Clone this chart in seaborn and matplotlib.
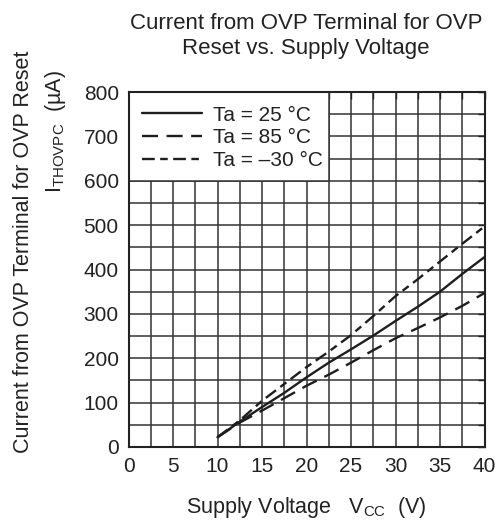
import matplotlib
matplotlib.use("Agg")
import matplotlib.pyplot as plt
import seaborn as sns
import pandas as pd
from matplotlib.patches import Rectangle
from matplotlib.ticker import MultipleLocator

# ---- data ----
vcc = [10, 12.5, 15, 17.5, 20, 22.5, 25, 27.5, 30, 32.5, 35, 37.5, 40]
i_25 = [22, 57, 90, 122, 157, 190, 220, 251, 284, 316, 350, 390, 428]
i_85 = [22, 55, 82, 110, 138, 163, 190, 218, 245, 268, 292, 318, 347]
i_m30 = [22, 60, 104, 142, 180, 215, 252, 295, 340, 378, 418, 458, 497]
labels = ["Ta = 25 °C", "Ta = 85 °C", "Ta = –30 °C"]
x_ticks = [0, 5, 10, 15, 20, 25, 30, 35, 40]
y_ticks = [0, 100, 200, 300, 400, 500, 600, 700, 800]

sns.set_theme(style="white")
plt.rcParams["font.family"] = ["Liberation Sans", "DejaVu Sans"]
plt.rcParams["mathtext.fontset"] = "custom"
plt.rcParams["mathtext.rm"] = "Liberation Sans"
plt.rcParams["mathtext.it"] = "Liberation Sans:italic"

W, H = 500, 527
fig = plt.figure(figsize=(W / 100, H / 100), dpi=100)
L, R, T, B = 128.5, 484.5, 92, 447
ax = fig.add_axes([L / W, 1 - B / H, (R - L) / W, (B - T) / H])

lc = "#1e1e1e"
dash_styles = [None, (6.8, 3.6), (5.4, 2.3, 3.2, 2.3)]
for y, lab, ds in zip([i_25, i_85, i_m30], labels, dash_styles):
    sns.lineplot(x=vcc, y=y, ax=ax, color=lc, linewidth=1.7, label=lab)
    line = ax.get_lines()[-1]
    if ds is not None:
        line.set_dashes(ds)

ax.set_xlim(0, 40)
ax.set_ylim(0, 800)
ax.set_xticks(x_ticks)
ax.set_yticks(y_ticks)
ax.xaxis.set_minor_locator(MultipleLocator(2.5))
ax.yaxis.set_minor_locator(MultipleLocator(50))
ax.grid(True, which="both", color="#333333", linewidth=1.1)
ax.set_axisbelow(True)
for l in ax.get_lines():
    l.set_zorder(3)
ax.tick_params(which="both", direction="in", top=True, right=True,
               length=5, width=1.0, color="#222222")
ax.tick_params(which="major", labelsize=15, pad=7, labelcolor="#222222")
for s in ax.spines.values():
    s.set_color("#222222")
    s.set_linewidth(1.5)
ax.set_xlabel("")
ax.set_ylabel("")

# white box behind legend
ax.add_patch(Rectangle((0, 600), 22.5, 200, facecolor="white",
                       edgecolor="#333333", linewidth=1.1, zorder=2))

leg = ax.legend(loc="upper left", frameon=False, fontsize=15,
                handlelength=2.9, handletextpad=0.5, labelspacing=0.18,
                borderaxespad=0.25, bbox_to_anchor=(0.0, 1.0))
leg.set_zorder(5)
for t in leg.get_texts():
    t.set_color("#222222")

# titles and labels
fig.text(306 / W, 1 - 36 / H, "Current from OVP Terminal for OVP\nReset vs. Supply Voltage",
         ha="center", va="center", fontsize=16, color="#222222", linespacing=1.3)
fig.text(306 / W, 1 - 508 / H, "Supply Voltage   V$_{\\mathrm{CC}}$  (V)",
         ha="center", va="center", fontsize=15.5, color="#222222")
fig.text(24 / W, 1 - 252 / H, "Current from OVP Terminal for OVP Reset",
         ha="center", va="center", rotation=90, fontsize=15.5, color="#222222")
fig.text(55 / W, 1 - 131 / H, "I$_{\\mathrm{THOVPC}}$  (µA)",
         ha="center", va="center", rotation=90, fontsize=15.5, color="#222222")

fig.savefig("out.png", dpi=100)
